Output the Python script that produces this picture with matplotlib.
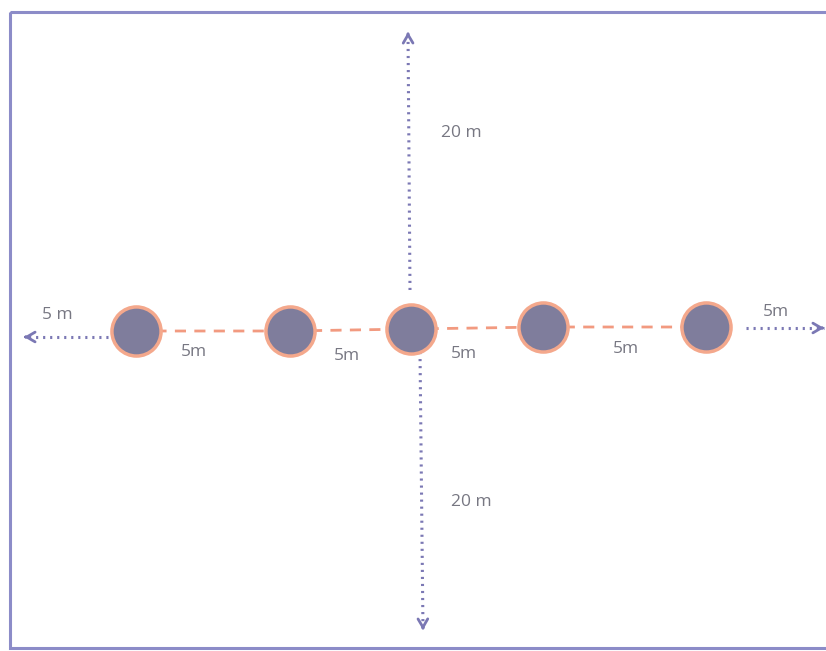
import numpy as np
import matplotlib.pyplot as plt
from matplotlib.patches import Rectangle

# posiciones de los arboles (pixeles de la imagen)
arbol_x = [136, 290, 411, 543, 706]
arbol_y = [331, 331, 329, 327, 327]

# etiquetas de distancia
etiquetas = ['5 m', '5m', '5m', '5m', '5m', '5m', '20 m', '20 m']
etiq_x = [42, 181, 334, 451, 613, 763, 441, 451]
etiq_y = [315, 352, 356, 354, 349, 312, 133, 502]

# flechas punteadas: (inicio, punta)
flechas = [((108, 337), (24, 337)),
           ((746, 328), (824, 328)),
           ((410, 290), (408, 32)),
           ((420, 352), (423, 630))]

col_flecha = '#7b78b4'
col_texto = '#777782'
col_linea = '#f29a80'

fig = plt.figure(figsize=(8.26, 6.51), dpi=100)
ax = fig.add_axes([0, 0, 1, 1])
ax.set_xlim(0, 826)
ax.set_ylim(651, 0)
ax.axis('off')

# marco
ax.add_patch(Rectangle((10, 12), 830, 636, fill=False, ec='#8c8cc8', lw=2.2))

# linea discontinua entre arboles
ax.plot(arbol_x, arbol_y, color=col_linea, lw=2, ls=(0, (4, 3)), zorder=1)

# arboles
ax.scatter(arbol_x, arbol_y, s=1250, c='#7f7d9c', edgecolors='#f4a88c',
           linewidths=2.5, zorder=3)

for (x0, y0), (x1, y1) in flechas:
    ax.plot([x0, x1], [y0, y1], color=col_flecha, lw=2.2, ls=(0, (0.7, 1.6)),
            zorder=2)
    dx, dy = x1 - x0, y1 - y0
    d = np.hypot(dx, dy)
    ax.annotate('', xy=(x1, y1), xytext=(x1 - dx / d * 2, y1 - dy / d * 2),
                arrowprops=dict(arrowstyle='->,head_length=0.6,head_width=0.35',
                                color=col_flecha, lw=2, shrinkA=0, shrinkB=0))

for t, x, y in zip(etiquetas, etiq_x, etiq_y):
    ax.text(x, y, t, fontsize=12.5, color=col_texto, va='center', ha='left',
            family='Open Sans')

fig.savefig('out.png', dpi=100)
